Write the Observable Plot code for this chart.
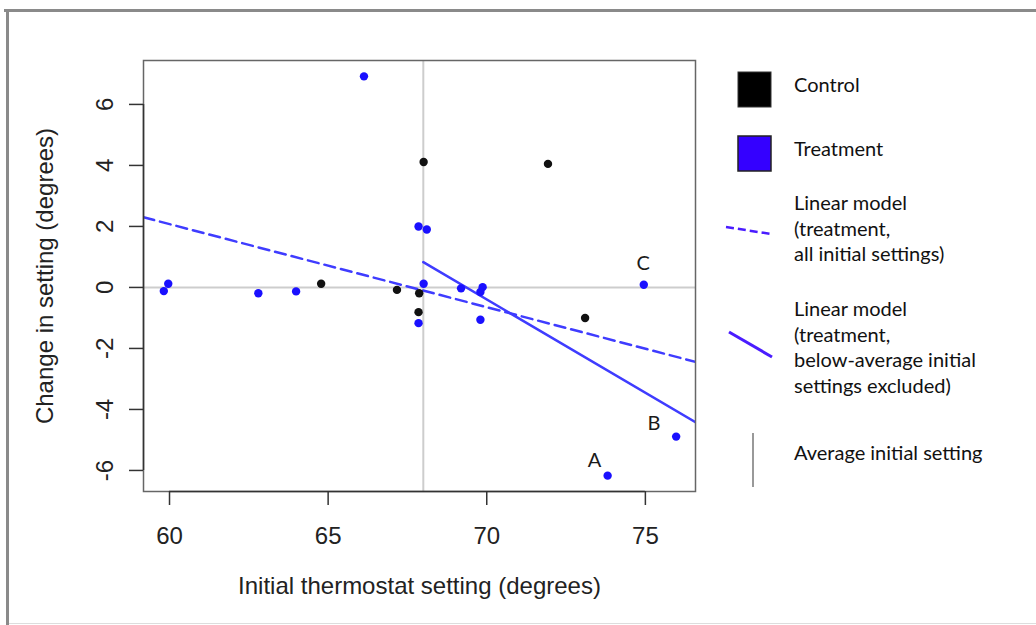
<!DOCTYPE html>
<html>
<head>
<meta charset="utf-8">
<script src="https://cdn.jsdelivr.net/npm/d3@7"></script>
<script src="https://cdn.jsdelivr.net/npm/@observablehq/plot@0.6"></script>
<style>
  html, body { margin: 0; padding: 0; background: #fff; }
  #chart { position: relative; width: 1036px; height: 625px; }
</style>
</head>
<body>
<div id="chart"></div>
<script>
// ---- Data ----
const controlX = [68.01, 71.93, 64.78, 67.17, 67.87, 67.85, 73.10];
const controlY = [4.11, 4.05, 0.12, -0.08, -0.19, -0.81, -1.00];

const treatmentX = [66.13, 67.85, 68.11, 59.96, 59.82, 62.80, 63.99, 68.01, 69.19, 69.87, 69.80, 67.85, 69.80, 74.95, 75.97, 73.81];
const treatmentY = [6.92, 2.00, 1.90, 0.12, -0.12, -0.19, -0.13, 0.12, -0.03, 0.01, -0.15, -1.17, -1.06, 0.09, -4.89, -6.17];

const avgInitial = 68.0;

// linear model endpoints
const fitAllX = [59.18, 76.58];
const fitAllY = [2.30, -2.44];
const fitAboveX = [68.0, 76.58];
const fitAboveY = [0.83, -4.42];

const pointLabels = ["A", "B", "C"];
const pointLabelX = [73.40, 75.27, 74.93];
const pointLabelY = [-5.67, -4.45, 0.79];

const xTicks = [60, 65, 70, 75];
const yTicks = [-6, -4, -2, 0, 2, 4, 6];
const xDomain = [59.18, 76.58];
const yDomain = [-6.69, 7.44];

const xTitle = "Initial thermostat setting (degrees)";
const yTitle = "Change in setting (degrees)";

const legendItems = [
  "Control",
  "Treatment",
  ["Linear model", "(treatment,", "all initial settings)"],
  ["Linear model", "(treatment,", "below-average initial", "settings excluded)"],
  "Average initial setting"
];

// ---- Build tables ----
const control = controlX.map((x, i) => ({x, y: controlY[i]}));
const treatment = treatmentX.map((x, i) => ({x, y: treatmentY[i]}));
const fitAll = fitAllX.map((x, i) => ({x, y: fitAllY[i]}));
const fitAbove = fitAboveX.map((x, i) => ({x, y: fitAboveY[i]}));
const labels = pointLabels.map((t, i) => ({t, x: pointLabelX[i], y: pointLabelY[i]}));

const axisFont = "'Liberation Sans', Arial, sans-serif";
const legendFont = "Lato, 'Open Sans', sans-serif";
const blue = "#1a10ff";
const lineBlue = "#3f3cff";

const plot = Plot.plot({
  width: 1036,
  height: 625,
  marginLeft: 143,
  marginRight: 341,
  marginTop: 60,
  marginBottom: 134,
  style: {fontFamily: axisFont, background: "transparent", overflow: "visible"},
  x: {domain: xDomain},
  y: {domain: yDomain},
  marks: [
    Plot.ruleY([0], {stroke: "#cdcdcd", strokeWidth: 2}),
    Plot.ruleX([avgInitial], {stroke: "#cdcdcd", strokeWidth: 2}),
    Plot.line(fitAll, {x: "x", y: "y", stroke: lineBlue, strokeWidth: 2.5, strokeDasharray: "11,6", clip: true}),
    Plot.line(fitAbove, {x: "x", y: "y", stroke: lineBlue, strokeWidth: 2.5, clip: true}),
    Plot.dot(control, {x: "x", y: "y", r: 4.2, fill: "#111", stroke: "none"}),
    Plot.dot(treatment, {x: "x", y: "y", r: 4.2, fill: blue, stroke: "none"}),
    Plot.text(labels, {x: "x", y: "y", text: "t", fontSize: 20, fontFamily: legendFont, fill: "#1a1a1a"}),
    Plot.frame({stroke: "#666", strokeWidth: 1.5}),
    Plot.ruleY([yDomain[0]], {x1: xTicks[0], x2: xTicks[xTicks.length - 1], stroke: "#333", strokeWidth: 1.5}),
    Plot.ruleX([xDomain[0]], {y1: yTicks[0], y2: yTicks[yTicks.length - 1], stroke: "#333", strokeWidth: 1.5}),
    Plot.axisX({ticks: xTicks, tickSize: 14, tickPadding: 21, fontSize: 24, label: null, stroke: "#333", strokeWidth: 1.5, fill: "#222", tickFormat: d => String(d)}),
    Plot.axisY({ticks: yTicks, tickSize: 14, tickPadding: 17, tickRotate: -90, fontSize: 24, label: null, stroke: "#333", strokeWidth: 1.5, fill: "#222", tickFormat: d => String(d)}),
    Plot.text([xTitle], {frameAnchor: "bottom", dy: 102, fontSize: 24, fill: "#222", textAnchor: "middle"}),
    Plot.text([yTitle], {frameAnchor: "left", dx: -98, rotate: -90, fontSize: 24, fill: "#222", textAnchor: "middle", lineAnchor: "middle"})
  ]
});

document.getElementById("chart").appendChild(plot);

// ---- Decoration: outer frame and legend ----
const svg = d3.select(plot);
svg.append("rect").attr("x", 4).attr("y", 9).attr("width", 1032).attr("height", 3).attr("fill", "#8a8a8a");
svg.append("rect").attr("x", 6).attr("y", 9).attr("width", 3).attr("height", 616).attr("fill", "#8a8a8a");
svg.append("rect").attr("x", 9).attr("y", 623).attr("width", 1027).attr("height", 1).attr("fill", "#dddddd");

const lg = svg.append("g").attr("font-family", legendFont).attr("font-size", 20).attr("fill", "#111").attr("text-anchor", "start");
// Control square
lg.append("rect").attr("x", 738).attr("y", 72).attr("width", 33).attr("height", 35).attr("fill", "#000").attr("stroke", "#333").attr("stroke-width", 1);
// Treatment square
lg.append("rect").attr("x", 738).attr("y", 136).attr("width", 33).attr("height", 35).attr("fill", "#3400ff").attr("stroke", "#222").attr("stroke-width", 1.5);
// dashed line
lg.append("line").attr("x1", 726).attr("y1", 227).attr("x2", 771).attr("y2", 234).attr("stroke", "#4a1cff").attr("stroke-width", 2.5).attr("stroke-dasharray", "8,4");
// solid line
lg.append("line").attr("x1", 729).attr("y1", 332).attr("x2", 772).attr("y2", 357).attr("stroke", "#4a1cff").attr("stroke-width", 3);
// vertical line
lg.append("line").attr("x1", 753).attr("y1", 433).attr("x2", 753).attr("y2", 487).attr("stroke", "#999").attr("stroke-width", 2);

const baselines = [92, 156, [210, 235.5, 261], [316, 341.5, 367, 392.5], 460];
legendItems.forEach((item, i) => {
  const lines = Array.isArray(item) ? item : [item];
  const bl = Array.isArray(baselines[i]) ? baselines[i] : [baselines[i]];
  lines.forEach((t, j) => {
    lg.append("text").attr("x", 794).attr("y", bl[j]).attr("text-anchor", "start").text(t);
  });
});
</script>
</body>
</html>
